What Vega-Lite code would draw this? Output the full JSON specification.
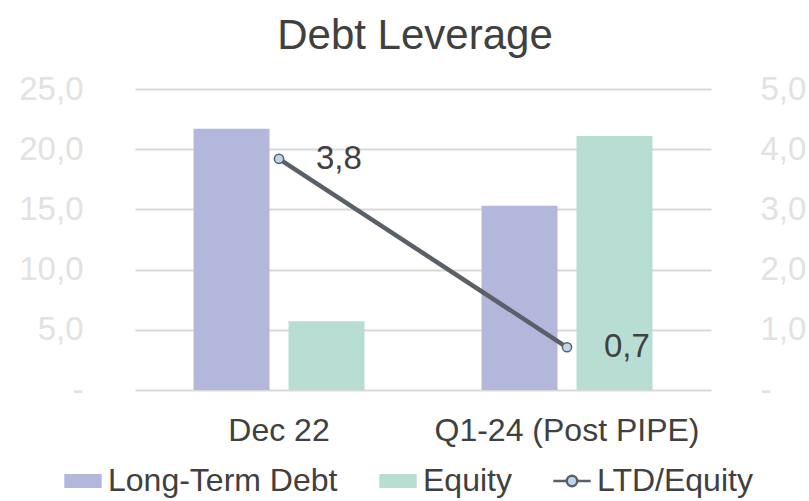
{
  "$schema": "https://vega.github.io/schema/vega-lite/v6.json",
  "width": 576,
  "height": 301,
  "autosize": "none",
  "padding": {"left": 135, "top": 89, "right": 98, "bottom": 111},
  "background": "white",
  "config": {
    "font": "Liberation Sans",
    "view": {"stroke": null},
    "locale": {"number": {"decimal": ",", "thousands": ".", "grouping": [3], "currency": ["", " €"]}}
  },
  "title": {
    "text": "Debt Leverage",
    "fontSize": 42,
    "font": "Liberation Sans",
    "fontWeight": "normal",
    "color": "#404040",
    "anchor": "middle",
    "frame": "group",
    "offset": 15,
    "dx": -8
  },
  "datasets": {
    "bars": [
      {"period": "Dec 22", "series": "Long-Term Debt", "value": 21.7},
      {"period": "Dec 22", "series": "Equity", "value": 5.7},
      {"period": "Q1-24 (Post PIPE)", "series": "Long-Term Debt", "value": 15.3},
      {"period": "Q1-24 (Post PIPE)", "series": "Equity", "value": 21.1}
    ],
    "ratio": [
      {"period": "Dec 22", "series": "LTD/Equity", "ratio": 3.84},
      {"period": "Q1-24 (Post PIPE)", "series": "LTD/Equity", "ratio": 0.71}
    ]
  },
  "layer": [
    {
      "data": {"name": "bars"},
      "mark": {"type": "bar"},
      "encoding": {
        "x": {
          "field": "period", "type": "nominal",
          "sort": ["Dec 22", "Q1-24 (Post PIPE)"],
          "scale": {"paddingInner": 0, "paddingOuter": 0},
          "axis": {"title": null, "labelAngle": 0, "labelLimit": 0, "domain": false, "ticks": false, "tickSize": 0, "labelPadding": 25, "labelFontSize": 32, "labelColor": "#404040", "labelFont": "Liberation Sans"}
        },
        "xOffset": {
          "field": "series", "type": "nominal",
          "sort": ["Long-Term Debt", "Equity"],
          "scale": {"paddingInner": 0.2, "paddingOuter": 0.616}
        },
        "y": {
          "field": "value", "type": "quantitative",
          "scale": {"domain": [0, 25], "nice": false},
          "axis": {
            "title": null, "values": [0, 5, 10, 15, 20, 25], "format": ".1f",
            "labelExpr": "datum.value === 0 ? '-\u00a0\u00a0' : datum.label",
            "domain": false, "ticks": false, "tickSize": 0, "labelPadding": 52,
            "grid": true, "gridColor": "#d9d9d9", "gridWidth": 2,
            "labelFontSize": 33, "labelColor": "#e2e2e2", "labelFont": "Liberation Sans"
          }
        },
        "color": {
          "field": "series", "type": "nominal",
          "scale": {"domain": ["Long-Term Debt", "Equity", "LTD/Equity"], "range": ["#b4b7dc", "#b8ddd3", "#bcd6ee"]},
          "legend": {
            "orient": "none", "legendX": -72, "legendY": 372,
            "direction": "horizontal", "title": null, "labelLimit": 0,
            "labelFontSize": 32, "labelColor": "#404040", "labelFont": "Liberation Sans",
            "symbolSize": 1400, "labelOffset": 5, "columnPadding": 36, "padding": 0,
            "encode": {
              "symbols": {
                "update": {
                  "shape": {"signal": "datum.value === 'LTD/Equity' ? 'M-1,0H-0.28M0.28,0H1M-0.28,0A0.28,0.28,0,1,1,0.28,0A0.28,0.28,0,1,1,-0.28,0' : 'M-1,-0.38H1V0.38H-1Z'"},
                  "fill": {"signal": "scale('color', datum.value)"},
                  "stroke": {"signal": "datum.value === 'LTD/Equity' ? '#596068' : 'transparent'"},
                  "strokeWidth": {"value": 2.5},
                  "opacity": {"value": 1},
                  "fillOpacity": {"value": 1}
                }
              }
            }
          }
        }
      }
    },
    {
      "data": {"name": "ratio"},
      "encoding": {
        "x": {
          "field": "period", "type": "nominal",
          "sort": ["Dec 22", "Q1-24 (Post PIPE)"],
          "axis": {"title": null, "labelAngle": 0, "labelLimit": 0, "domain": false, "ticks": false, "tickSize": 0, "labelPadding": 25, "labelFontSize": 32, "labelColor": "#404040", "labelFont": "Liberation Sans"}
        },
        "y": {
          "field": "ratio", "type": "quantitative",
          "scale": {"domain": [0, 5], "nice": false},
          "axis": {
            "orient": "right", "title": null, "values": [0, 1, 2, 3, 4, 5], "format": ".1f",
            "labelExpr": "datum.value === 0 ? '-' : datum.label",
            "domain": false, "ticks": false, "tickSize": 0, "labelPadding": 49, "grid": false,
            "labelFontSize": 33, "labelColor": "#e2e2e2", "labelFont": "Liberation Sans"
          }
        }
      },
      "layer": [
        {
          "mark": {"type": "line", "strokeWidth": 4.5, "color": "#596068"},
          "encoding": {}
        },
        {
          "mark": {"type": "point", "filled": true, "stroke": "#596068", "strokeWidth": 1.5, "size": 85, "opacity": 1},
          "encoding": {"color": {"field": "series", "type": "nominal"}}
        },
        {
          "mark": {"type": "text", "align": "left", "baseline": "middle", "dx": 37, "fontSize": 33, "color": "#404040", "font": "Liberation Sans"},
          "encoding": {"text": {"field": "ratio", "type": "quantitative", "format": ".1f"}}
        }
      ]
    }
  ],
  "resolve": {"scale": {"y": "independent"}}
}
